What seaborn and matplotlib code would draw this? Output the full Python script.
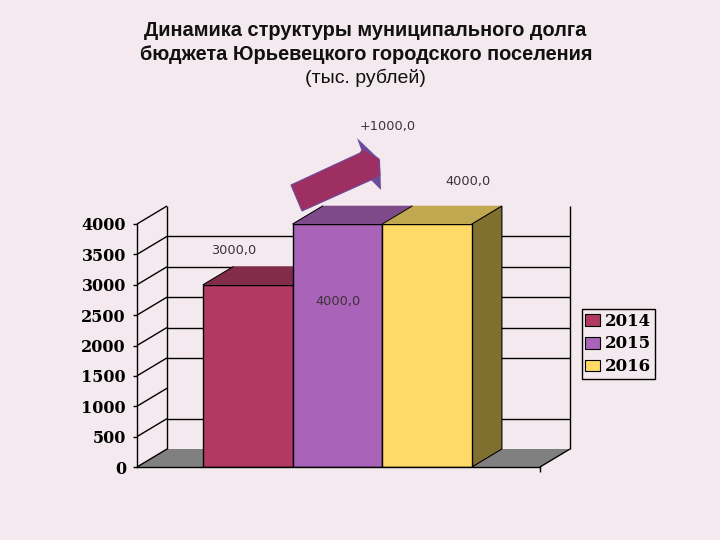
import matplotlib
matplotlib.use("Agg")
import matplotlib.pyplot as plt
import pandas as pd
import seaborn as sns
from matplotlib.patches import Patch, Polygon

years = ["2014", "2015", "2016"]
debt = [3000, 4000, 4000]
front_colors = ["#B23A62", "#A963B8", "#FFDA66"]
top_colors = ["#822C4A", "#7E4A8A", "#BFA84F"]
side_color = "#7F7030"
y_ticks = [0, 500, 1000, 1500, 2000, 2500, 3000, 3500, 4000]
back_lines = [500, 1500, 2000, 2500, 3000, 3500]
data_labels = ["3000,0", "4000,0", "4000,0"]
title_lines = ["Динамика структуры муниципального долга",
               "бюджета Юрьевецкого городского поселения"]
subtitle = "(тыс. рублей)"
delta_label = "+1000,0"

BG = "#F4E9EE"
W, H = 720, 540
sns.set_theme(style="white")
plt.rcParams["font.family"] = ["DejaVu Sans"]

fig = plt.figure(figsize=(W / 100, H / 100), dpi=100, facecolor=BG)
ax = fig.add_axes([137 / W, 1 - 467 / H, 403 / W, 243 / H])
ax.set_facecolor("none")

df = pd.DataFrame({"year": years, "value": debt})
sns.barplot(data=df, x="year", y="value", hue="year", hue_order=years,
            palette=front_colors, width=1, dodge=False, edgecolor="black",
            linewidth=1, saturation=1, ax=ax, zorder=3, legend=False)

xmin, xmax = -1.237, 3.26
ax.set_xlim(xmin, xmax)
ax.set_ylim(0, 4000)
dx = 30 / (403 / (xmax - xmin))
dy = 18 / (243 / 4000)

# floor and back wall
ax.fill([xmin, xmax, xmax + dx, xmin + dx], [0, 0, dy, dy], color="#808080",
        lw=0, clip_on=False, zorder=1)
line = dict(color="black", lw=1, clip_on=False, zorder=1.5, solid_capstyle="butt")
ax.plot([xmin + dx, xmin + dx], [dy, 4000 + dy], **line)
ax.plot([xmax + dx, xmax + dx], [dy, 4000 + dy], **line)
ax.plot([xmax, xmax + dx], [0, dy], **line)
ax.plot([xmax, xmax], [0, -5 / (243 / 4000)], **line)
for v in y_ticks:
    ax.plot([xmin, xmin + dx], [v, v + dy], **line)
for v in back_lines:
    ax.plot([xmin + dx, xmax + dx], [v + dy, v + dy], **line)

# depth faces of the bars
for i, (v, c) in enumerate(zip(debt, top_colors)):
    ax.fill([i - .5, i + .5, i + .5 + dx, i - .5 + dx], [v, v, v + dy, v + dy],
            facecolor=c, edgecolor=c, lw=0.4, clip_on=False, zorder=2)
    ax.plot([i - .5, i - .5 + dx], [v, v + dy], color="black", lw=0.7,
            clip_on=False, zorder=2.2)
last = len(debt) - 1
ax.fill([last + .5, last + .5 + dx, last + .5 + dx, last + .5],
        [0, dy, debt[last] + dy, debt[last]], facecolor=side_color,
        edgecolor="black", lw=0.8, clip_on=False, zorder=2.5)

# axes
sns.despine(ax=ax, top=True, right=True)
for s in ("left", "bottom"):
    ax.spines[s].set_color("black")
    ax.spines[s].set_linewidth(1)
    ax.spines[s].set_zorder(4)
ax.set_xlabel("")
ax.set_ylabel("")
ax.set_xticks([])
ax.set_yticks(y_ticks)
ax.set_yticklabels([str(v) for v in y_ticks], family="DejaVu Serif", weight="bold",
                   fontsize=11.5, color="black")
ax.tick_params(axis="y", left=True, length=3, width=1, color="black", pad=5)

# legend
handles = [Patch(facecolor=c, edgecolor="black", linewidth=0.8) for c in front_colors]
ax.legend(handles, years, loc="center left", bbox_to_anchor=(582 / W, 1 - 344 / H),
          bbox_transform=fig.transFigure, frameon=True, fancybox=False, framealpha=1,
          facecolor=BG, edgecolor="black", labelcolor="black",
          prop=dict(family="DejaVu Serif", weight="bold", size=12),
          handlelength=0.85, handleheight=0.7, handletextpad=0.35, labelspacing=0.35,
          borderpad=0.2, borderaxespad=0)

def px(x, y):
    return (x / W, 1 - y / H)

# arrow
shade = Polygon([px(x, y) for x, y in
                 [(357, 138), (380, 160), (381, 190), (371, 180), (362, 152)]],
                closed=True, transform=fig.transFigure, facecolor="#6E4A9A", lw=0, zorder=5)
arrow = Polygon([px(x, y) for x, y in
                 [(291, 185), (360, 153), (363, 149), (379, 159), (380, 176),
                  (371, 180), (302, 211)]],
                closed=True, transform=fig.transFigure, facecolor="#9E2F63",
                edgecolor="#6E4A9A", lw=0.8, zorder=6)
fig.add_artist(shade)
fig.add_artist(arrow)

# text
label_style = dict(ha="center", va="center", fontsize=9.3, color="#3C3238")
fig.text(*px(234, 250), data_labels[0], **label_style)
fig.text(*px(338, 301), data_labels[1], **label_style)
fig.text(*px(468, 182), data_labels[2], **label_style)
fig.text(*px(388, 126), delta_label, **label_style)

tfam = "Liberation Sans"
fig.text(*px(365, 30), title_lines[0], ha="center", va="center", family=tfam,
         weight="bold", fontsize=14.4, color="#111111")
fig.text(*px(366, 55), title_lines[1], ha="center", va="center", family=tfam,
         weight="bold", fontsize=14.4, color="#111111")
fig.text(*px(365, 78), subtitle, ha="center", va="center", family=tfam,
         fontsize=14, color="#111111")

fig.savefig("out.png", dpi=100, facecolor=BG)
